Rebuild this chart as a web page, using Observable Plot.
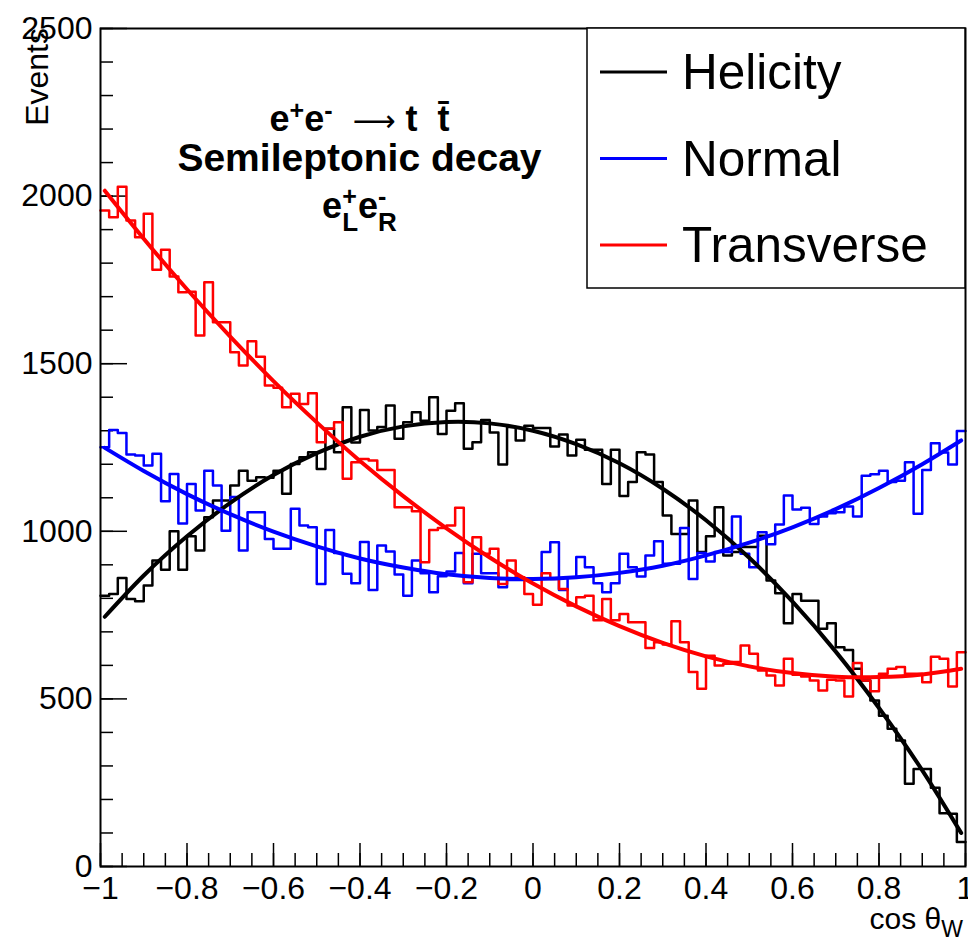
<!DOCTYPE html>
<html><head><meta charset="utf-8">
<script src="https://cdn.jsdelivr.net/npm/d3@7"></script>
<script src="https://cdn.jsdelivr.net/npm/@observablehq/plot@0.6"></script>
<style>
html,body{margin:0;padding:0;background:#fff;}
svg{display:block;}
</style></head><body><div id="chart"></div>
<script>
// ---- data ----
const binLow = -1, binWidth = 0.02; // 100 bins over [-1, 1]
const helicity = [808,813,861,798,791,838,913,885,1000,885,
  985,943,1042,1092,1092,1137,1181,1151,1161,1160,
  1181,1112,1201,1221,1236,1186,1306,1236,1370,1265,
  1362,1301,1311,1375,1276,1325,1355,1330,1400,1290,
  1360,1382,1246,1266,1332,1295,1199,1311,1271,1315,
  1308,1308,1253,1289,1226,1273,1243,1243,1141,1243,
  1105,1147,1236,1229,1147,1047,992,992,1092,938,
  985,1072,928,938,953,953,987,853,815,726,
  813,793,793,709,726,654,646,590,555,495,
  450,411,376,247,291,291,235,159,157,73];
const normal = [1251,1302,1293,1229,1226,1196,1231,1090,1171,1023,
  1141,1062,1181,1137,1002,1102,943,1057,1057,977,
  948,948,1067,1017,1012,843,1004,935,873,845,
  968,825,958,940,871,808,913,875,818,866,
  880,935,845,933,875,875,833,855,855,860,
  860,938,967,825,863,923,893,845,818,845,
  933,893,865,928,970,903,903,1010,858,935,
  910,938,938,1044,933,893,997,961,1020,1107,
  1065,1070,1022,1044,1054,1057,1074,1044,1166,1170,
  1181,1147,1151,1206,1052,1183,1263,1235,1199,1299];
const transverse = [1957,1937,2028,1927,1877,1947,1780,1840,1760,1713,
  1715,1584,1743,1624,1624,1534,1495,1567,1521,1435,
  1428,1370,1410,1380,1412,1266,1306,1325,1157,1206,
  1216,1211,1183,1183,1072,1072,1060,908,1004,1010,
  1017,1070,848,982,933,948,843,913,863,813,
  781,875,858,828,779,803,808,735,798,735,
  753,729,729,652,669,662,732,669,580,530,
  629,600,605,610,659,635,585,570,540,620,
  572,567,555,525,557,555,507,607,555,523,
  575,590,595,575,575,550,626,620,537,639];

const fitX = [-0.99,-0.9,-0.8,-0.7,-0.6,-0.5,-0.4,-0.3,-0.2,-0.1,0,0.1,0.2,0.3,0.4,0.5,0.6,0.7,0.8,0.9,0.99];
const fitHelicity = [745,868,985,1085,1168,1233,1282,1313,1326,1322,1300,1260,1203,1127,1033,921,790,641,473,287,100];
const fitNormal = [1249,1180,1111,1051,999,955,919,892,872,861,858,863,876,897,928,966,1012,1066,1129,1200,1271];
const fitTransverse = [2016,1873,1722,1581,1448,1325,1210,1105,1009,922,844,776,717,667,627,597,577,566,565,573,590];

const xTicks = [-1,-0.8,-0.6,-0.4,-0.2,0,0.2,0.4,0.6,0.8,1];
const yTicks = [0,500,1000,1500,2000,2500];
const legendLabels = ["Helicity","Normal","Transverse"];
const colors = ["#000000","#0000ff","#ff0000"];
const xTitle = "cos θ", xTitleSub = "W", yTitle = "Events";

// ---- helpers ----
function steps(values){
  const pts = [];
  values.forEach((v,i)=>{ const x0 = binLow + i*binWidth; pts.push({x:x0,y:v},{x:x0+binWidth,y:v}); });
  return pts;
}
function fit(ys){ return fitX.map((x,i)=>({x, y: ys[i]})); }

const W=968, H=941, mL=100, mR=3, mT=28, mB=75;
const fw = W-mL-mR, fh = H-mT-mB;
const FONT = "'Liberation Sans', Arial, Helvetica, sans-serif";

const series = [helicity, normal, transverse];
const fits = [fitHelicity, fitNormal, fitTransverse];

const plot = Plot.plot({
  width: W, height: H,
  marginLeft: mL, marginRight: mR, marginTop: mT, marginBottom: mB,
  style: {fontFamily: FONT, fontSize: "32px", color: "#000", background: "#fff"},
  x: {domain: [-1, 1]},
  y: {domain: [0, 2500]},
  marks: [
    Plot.tickY(d3.range(0, 2501, 100), {stroke: "#000", strokeWidth: 1.5, insetRight: fw - 13}),
    Plot.tickY(yTicks, {stroke: "#000", strokeWidth: 1.5, insetRight: fw - 27}),
    Plot.tickX(d3.range(41).map(i => -1 + i*0.05), {stroke: "#000", strokeWidth: 1.5, insetTop: fh - 13}),
    Plot.tickX(xTicks, {stroke: "#000", strokeWidth: 1.5, insetTop: fh - 23}),
    Plot.axisY({ticks: yTicks, tickSize: 0, tickPadding: 8, label: null, tickFormat: d3.format("d"), fontSize: 32}),
    Plot.axisX({ticks: xTicks, tickSize: 0, tickPadding: 10, label: null, tickFormat: d3.format("~g"), fontSize: 32}),
    ...series.map((s,k) => Plot.line(steps(s), {x: "x", y: "y", stroke: colors[k], strokeWidth: 2.5})),
    ...fits.map((f,k) => Plot.line(fit(f), {x: "x", y: "y", stroke: colors[k], strokeWidth: 4, curve: "natural"})),
    Plot.frame({stroke: "#000", strokeWidth: 2})
  ]
});
document.getElementById("chart").appendChild(plot);

// ---- annotations ----
const svg = d3.select(plot);
const sx = plot.scale("x"), sy = plot.scale("y");
const g = svg.append("g").attr("font-family", FONT).attr("fill", "#000");

const cx = sx.apply(-0.4);
// line 1: e+e- -> t tbar
const t1 = g.append("text").attr("x", cx).attr("y", 131).attr("text-anchor", "middle")
  .attr("font-weight", "bold").attr("font-size", 36);
t1.append("tspan").text("e");
t1.append("tspan").attr("font-size", 25).attr("dy", -12).text("+");
t1.append("tspan").attr("font-size", 36).attr("dy", 12).text("e");
t1.append("tspan").attr("font-size", 25).attr("dy", -12).text("-");
t1.append("tspan").attr("font-size", 36).attr("dy", 12).text("\u00A0\u00A0");
t1.append("tspan").attr("font-family", "'DejaVu Sans', sans-serif").attr("font-weight", "normal").attr("font-size", 30).text("\u27F6");
t1.append("tspan").attr("font-size", 36).text("\u00A0t\u00A0\u00A0t\u0304");
// line 2
g.append("text").attr("x", cx).attr("y", 171).attr("text-anchor", "middle")
  .attr("font-weight", "bold").attr("font-size", 39).text("Semileptonic decay");
// line 3: e+_L e-_R
const t3 = g.append("text").attr("x", cx).attr("y", 218).attr("text-anchor", "middle")
  .attr("font-weight", "bold").attr("font-size", 36);
t3.append("tspan").text("e");
t3.append("tspan").attr("font-size", 25).attr("dy", -13).text("+");
t3.append("tspan").attr("font-size", 26).attr("dx", -14.6).attr("dy", 26).text("L");
t3.append("tspan").attr("font-size", 36).attr("dy", -13).text("e");
t3.append("tspan").attr("font-size", 25).attr("dy", -13).text("-");
t3.append("tspan").attr("font-size", 26).attr("dx", -8.3).attr("dy", 26).text("R");

// axis titles
g.append("text").attr("transform", `translate(48,${mT}) rotate(-90)`).attr("text-anchor", "end")
  .attr("font-size", 32).text(yTitle);
const xt = g.append("text").attr("x", W - mR - 2).attr("y", 929).attr("text-anchor", "end").attr("font-size", 30);
xt.append("tspan").text(xTitle);
xt.append("tspan").attr("font-size", 23).attr("dy", 8).text(xTitleSub);

// legend
const lg = svg.append("g").attr("font-family", FONT).attr("text-anchor", "start");
lg.append("rect").attr("x", 587).attr("y", mT).attr("width", W - mR - 587).attr("height", 260)
  .attr("fill", "#fff").attr("stroke", "#000").attr("stroke-width", 1.5);
legendLabels.forEach((lab, k) => {
  const ly = 72 + k*86.5;
  lg.append("line").attr("x1", 600).attr("x2", 667).attr("y1", ly).attr("y2", ly)
    .attr("stroke", colors[k]).attr("stroke-width", 3);
  lg.append("text").attr("x", 682).attr("y", ly + 17).attr("font-size", 49.5)
    .attr("text-anchor", "start").attr("fill", "#000").text(lab);
});
</script>
</body></html>
